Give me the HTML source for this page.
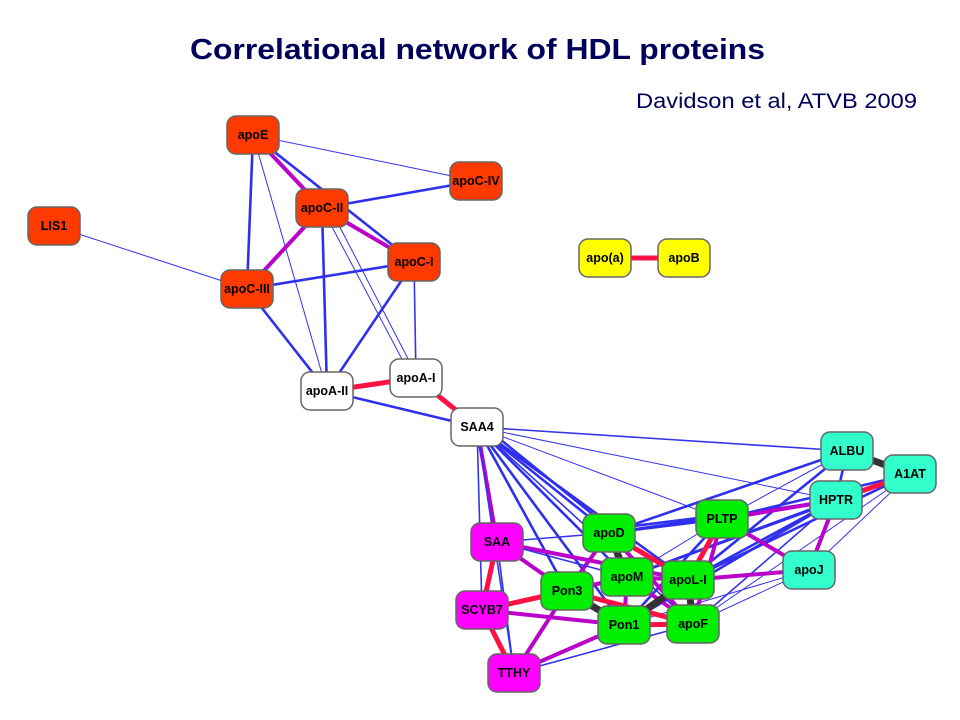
<!DOCTYPE html>
<html><head><meta charset="utf-8"><style>
html,body{margin:0;padding:0;background:#fff;width:960px;height:720px;overflow:hidden}
svg{display:block}
.b1{stroke:#3333ee;stroke-width:1}
.b15{stroke:#3333ee;stroke-width:1.6}
.b2{stroke:#2f2fee;stroke-width:2.6}
.m{stroke:#bb00cc;stroke-width:4}
.r{stroke:#ff1144;stroke-width:5}
.d{stroke:#333;stroke-width:7}
text.n{font-family:"Liberation Sans",sans-serif;font-weight:bold;font-size:12.5px;text-anchor:middle;fill:#000}
</style></head><body>
<svg width="960" height="720" viewBox="0 0 960 720">
<text x="190" y="59" font-family="Liberation Sans,sans-serif" font-weight="bold" font-size="29" fill="#00005a" textLength="575" lengthAdjust="spacingAndGlyphs">Correlational network of HDL proteins</text>
<text x="636" y="108" font-family="Liberation Sans,sans-serif" font-size="21" fill="#00005a" textLength="281" lengthAdjust="spacingAndGlyphs">Davidson et al, ATVB 2009</text>
<g fill="none" stroke-linecap="round">
<line class="b1" x1="253" y1="135" x2="476" y2="181"/>
<line class="b2" x1="253" y1="135" x2="414" y2="262"/>
<line class="m" x1="253" y1="135" x2="322" y2="208"/>
<line class="b2" x1="253" y1="135" x2="247" y2="289"/>
<line class="b1" x1="253" y1="135" x2="327" y2="391"/>
<line class="b2" x1="322" y1="208" x2="476" y2="181"/>
<line class="m" x1="322" y1="208" x2="247" y2="289"/>
<line class="m" x1="322" y1="208" x2="414" y2="262"/>
<line class="b2" x1="322" y1="208" x2="327" y2="391"/>
<line class="b1" x1="322" y1="208" x2="412" y2="378"/>
<line class="b1" x1="330" y1="208" x2="418" y2="378"/>
<line class="b2" x1="414" y1="262" x2="247" y2="289"/>
<line class="b2" x1="414" y1="262" x2="327" y2="391"/>
<line class="b15" x1="414" y1="262" x2="416" y2="378"/>
<line class="b2" x1="247" y1="289" x2="327" y2="391"/>
<line class="b1" x1="54" y1="226" x2="247" y2="289"/>
<line class="r" x1="327" y1="391" x2="416" y2="378"/>
<line class="r" x1="416" y1="378" x2="477" y2="427"/>
<line class="b2" x1="327" y1="391" x2="477" y2="427"/>
<line class="r" x1="605" y1="258" x2="684" y2="258"/>
<line class="b15" x1="477" y1="427" x2="847" y2="451"/>
<line class="b1" x1="477" y1="427" x2="836" y2="500"/>
<line class="b1" x1="477" y1="427" x2="722" y2="519"/>
<line class="b2" x1="477" y1="427" x2="609" y2="533"/>
<line class="b2" x1="485" y1="427" x2="612" y2="530"/>
<line class="b2" x1="477" y1="427" x2="627" y2="577"/>
<line class="b2" x1="477" y1="427" x2="688" y2="580"/>
<line class="b2" x1="477" y1="427" x2="567" y2="591"/>
<line class="b2" x1="477" y1="427" x2="624" y2="625"/>
<line class="b15" x1="477" y1="427" x2="693" y2="624"/>
<line class="m" x1="477" y1="427" x2="497" y2="542"/>
<line class="b15" x1="477" y1="427" x2="482" y2="610"/>
<line class="b15" x1="477" y1="427" x2="514" y2="673"/>
<line class="b2" x1="847" y1="451" x2="836" y2="500"/>
<line class="b2" x1="847" y1="451" x2="609" y2="533"/>
<line class="b1" x1="847" y1="451" x2="722" y2="519"/>
<line class="b2" x1="847" y1="451" x2="688" y2="580"/>
<line class="b2" x1="910" y1="474" x2="722" y2="519"/>
<line class="b2" x1="910" y1="474" x2="688" y2="580"/>
<line class="b2" x1="910" y1="474" x2="627" y2="577"/>
<line class="b1" x1="910" y1="474" x2="809" y2="570"/>
<line class="b1" x1="910" y1="474" x2="693" y2="624"/>
<line class="b2" x1="836" y1="500" x2="609" y2="533"/>
<line class="b2" x1="836" y1="500" x2="688" y2="580"/>
<line class="b2" x1="836" y1="500" x2="627" y2="577"/>
<line class="b2" x1="836" y1="500" x2="624" y2="625"/>
<line class="b15" x1="836" y1="500" x2="693" y2="624"/>
<line class="m" x1="836" y1="500" x2="809" y2="570"/>
<line class="m" x1="836" y1="500" x2="722" y2="519"/>
<line class="b2" x1="722" y1="519" x2="609" y2="533"/>
<line class="b2" x1="722" y1="515" x2="609" y2="529"/>
<line class="m" x1="722" y1="519" x2="809" y2="570"/>
<line class="b2" x1="722" y1="519" x2="624" y2="625"/>
<line class="b1" x1="722" y1="519" x2="627" y2="577"/>
<line class="b1" x1="809" y1="570" x2="693" y2="624"/>
<line class="b1" x1="809" y1="570" x2="624" y2="625"/>
<line class="b15" x1="609" y1="533" x2="497" y2="542"/>
<line class="m" x1="609" y1="533" x2="567" y2="591"/>
<line class="m" x1="609" y1="533" x2="693" y2="624"/>
<line class="m" x1="497" y1="542" x2="567" y2="591"/>
<line class="m" x1="497" y1="542" x2="688" y2="580"/>
<line class="b15" x1="497" y1="542" x2="514" y2="673"/>
<line class="b15" x1="497" y1="542" x2="627" y2="577"/>
<line class="b15" x1="482" y1="610" x2="627" y2="577"/>
<line class="m" x1="482" y1="610" x2="624" y2="625"/>
<line class="m" x1="567" y1="591" x2="514" y2="673"/>
<line class="m" x1="567" y1="591" x2="627" y2="577"/>
<line class="m" x1="627" y1="577" x2="688" y2="580"/>
<line class="m" x1="627" y1="577" x2="624" y2="625"/>
<line class="m" x1="627" y1="577" x2="693" y2="624"/>
<line class="m" x1="688" y1="580" x2="809" y2="570"/>
<line class="m" x1="624" y1="625" x2="514" y2="673"/>
<line class="b15" x1="514" y1="673" x2="693" y2="624"/>
<line class="r" x1="722" y1="519" x2="688" y2="580"/>
<line class="m" x1="722" y1="519" x2="693" y2="624"/>
<line class="r" x1="609" y1="533" x2="688" y2="580"/>
<line class="r" x1="497" y1="542" x2="482" y2="610"/>
<line class="r" x1="482" y1="610" x2="567" y2="591"/>
<line class="r" x1="482" y1="610" x2="514" y2="673"/>
<line class="r" x1="567" y1="591" x2="693" y2="624"/>
<line class="r" x1="624" y1="625" x2="693" y2="624"/>
<line class="r" x1="910" y1="474" x2="836" y2="500"/>
<line class="d" x1="847" y1="451" x2="910" y2="474"/>
<line class="d" x1="609" y1="533" x2="627" y2="577"/>
<line class="d" x1="567" y1="591" x2="624" y2="625"/>
<line class="d" x1="688" y1="580" x2="693" y2="624"/>
<line class="d" x1="688" y1="580" x2="624" y2="625"/>
</g>
<g stroke="#666" stroke-width="1.5">
<rect x="227" y="116" width="52" height="38" rx="9" fill="#ff3a00"/>
<rect x="450" y="162" width="52" height="38" rx="9" fill="#ff3a00"/>
<rect x="296" y="189" width="52" height="38" rx="9" fill="#ff3a00"/>
<rect x="28" y="207" width="52" height="38" rx="9" fill="#ff3a00"/>
<rect x="388" y="243" width="52" height="38" rx="9" fill="#ff3a00"/>
<rect x="221" y="270" width="52" height="38" rx="9" fill="#ff3a00"/>
<rect x="390" y="359" width="52" height="38" rx="9" fill="#fff"/>
<rect x="301" y="372" width="52" height="38" rx="9" fill="#fff"/>
<rect x="451" y="408" width="52" height="38" rx="9" fill="#fff"/>
<rect x="579" y="239" width="52" height="38" rx="9" fill="#ffff00"/>
<rect x="658" y="239" width="52" height="38" rx="9" fill="#ffff00"/>
<rect x="821" y="432" width="52" height="38" rx="9" fill="#33ffcc"/>
<rect x="884" y="455" width="52" height="38" rx="9" fill="#33ffcc"/>
<rect x="810" y="481" width="52" height="38" rx="9" fill="#33ffcc"/>
<rect x="783" y="551" width="52" height="38" rx="9" fill="#33ffcc"/>
<rect x="696" y="500" width="52" height="38" rx="9" fill="#00ee00"/>
<rect x="583" y="514" width="52" height="38" rx="9" fill="#00ee00"/>
<rect x="471" y="523" width="52" height="38" rx="9" fill="#ff00ff"/>
<rect x="601" y="558" width="52" height="38" rx="9" fill="#00ee00"/>
<rect x="662" y="561" width="52" height="38" rx="9" fill="#00ee00"/>
<rect x="541" y="572" width="52" height="38" rx="9" fill="#00ee00"/>
<rect x="456" y="591" width="52" height="38" rx="9" fill="#ff00ff"/>
<rect x="598" y="606" width="52" height="38" rx="9" fill="#00ee00"/>
<rect x="667" y="605" width="52" height="38" rx="9" fill="#00ee00"/>
<rect x="488" y="654" width="52" height="38" rx="9" fill="#ff00ff"/>
</g>
<g>
<text class="n" x="253" y="139">apoE</text>
<text class="n" x="476" y="185">apoC-IV</text>
<text class="n" x="322" y="212">apoC-II</text>
<text class="n" x="54" y="230">LIS1</text>
<text class="n" x="414" y="266">apoC-I</text>
<text class="n" x="247" y="293">apoC-III</text>
<text class="n" x="416" y="382">apoA-I</text>
<text class="n" x="327" y="395">apoA-II</text>
<text class="n" x="477" y="431">SAA4</text>
<text class="n" x="605" y="262">apo(a)</text>
<text class="n" x="684" y="262">apoB</text>
<text class="n" x="847" y="455">ALBU</text>
<text class="n" x="910" y="478">A1AT</text>
<text class="n" x="836" y="504">HPTR</text>
<text class="n" x="809" y="574">apoJ</text>
<text class="n" x="722" y="523">PLTP</text>
<text class="n" x="609" y="537">apoD</text>
<text class="n" x="497" y="546">SAA</text>
<text class="n" x="627" y="581">apoM</text>
<text class="n" x="688" y="584">apoL-I</text>
<text class="n" x="567" y="595">Pon3</text>
<text class="n" x="482" y="614">SCYB7</text>
<text class="n" x="624" y="629">Pon1</text>
<text class="n" x="693" y="628">apoF</text>
<text class="n" x="514" y="677">TTHY</text>
</g>
</svg>
</body></html>
